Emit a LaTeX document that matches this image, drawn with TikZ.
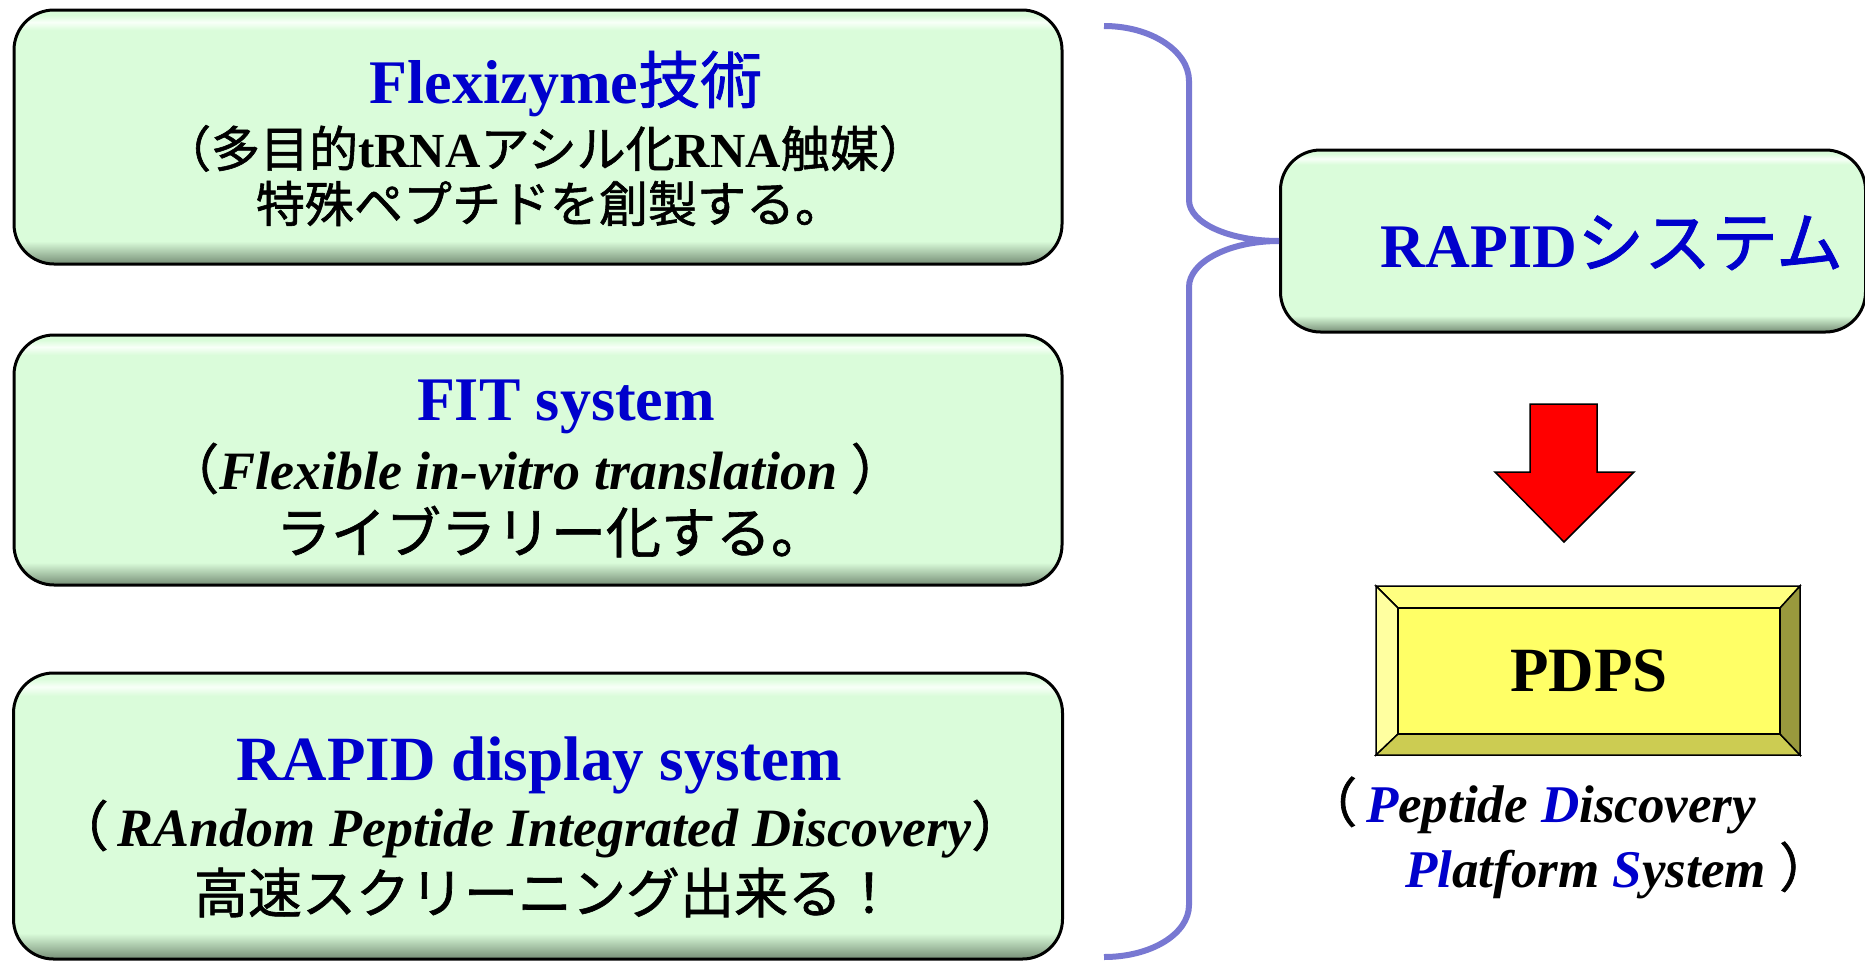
\documentclass[tikz,border=0pt]{standalone}
\usepackage{fontspec}
\setmainfont{Liberation Serif}
\newfontfamily\jpfont[FakeBold=1.2]{Noto Sans CJK JP}
\usetikzlibrary{calc}

\definecolor{titleblue}{RGB}{0,0,204}
\definecolor{panelface}{RGB}{218,252,218}
\definecolor{paneldark}{RGB}{118,142,118}
\definecolor{panelhi}{RGB}{248,255,248}
\definecolor{bracecol}{RGB}{120,120,210}
\definecolor{pdpsface}{RGB}{255,255,102}
\definecolor{pdpstop}{RGB}{255,255,128}
\definecolor{pdpsleft}{RGB}{255,255,160}
\definecolor{pdpsbot}{RGB}{204,204,82}
\definecolor{pdpsright}{RGB}{153,153,61}

\pgfdeclareverticalshading{panelshade}{100bp}{color(0bp)=(paneldark); color(25bp)=(paneldark);
  color(26.8bp)=(paneldark!60!panelface); color(29.5bp)=(panelface); color(71bp)=(panelface);
  color(72.6bp)=(panelhi); color(74bp)=(panelface); color(100bp)=(panelface)}

\newcommand\setsz[1]{\fontsize{#1}{#1}\selectfont}
\newcommand\jtext[1]{{\jpfont\mdseries\upshape #1}}
\newcommand\blu[1]{\textcolor{titleblue}{#1}}

\begin{document}
\begin{tikzpicture}[x=1pt,y=1pt,
    every node/.append style={inner sep=0pt},
    panel/.style={draw=black, line width=3pt, rounded corners=40pt, shading=panelshade},
    ttl/.style={anchor=base, text=titleblue, font=\bfseries\setsz{62}},
    sub/.style={anchor=base, font=\bfseries\setsz{49}},
    subit/.style={anchor=base, font=\bfseries\itshape\setsz{54}},
    brace/.style={draw=bracecol, line width=6pt}]
  \useasboundingbox (0,0) rectangle (1865,-961);

  % left column
  \node[panel, minimum width=1048pt, minimum height=254pt] (flexi) at (538,-137) {};
  \node[ttl] (flexiT) at (566,-103) {Flexizyme\jtext{技術}};
  \node[sub] (flexiS) at (545,-167) {\jtext{（多目的}tRNA\jtext{アシル化}RNA\jtext{触媒）}};
  \node[anchor=base, font=\setsz{49}] (flexiJ) at (550,-222) {\jtext{特殊ペプチドを創製する。}};

  \node[panel, minimum width=1048pt, minimum height=250pt] (fit) at (538,-460) {};
  \node[ttl] (fitT) at (566,-420) {FIT system};
  \node[subit] (fitS) at (535,-489) {\jtext{（}Flexible in-vitro translation \jtext{）}};
  \node[anchor=base, font=\setsz{55}] (fitJ) at (551,-553) {\jtext{ライブラリー化する。}};

  \node[panel, minimum width=1049pt, minimum height=286pt] (rapd) at (538,-816) {};
  \node[ttl, font=\bfseries\setsz{63}] (rapdT) at (539,-780) {RAPID display system};
  \node[subit] (rapdS) at (540,-846) {\jtext{（}\,RAndom Peptide Integrated Discovery\jtext{）}};
  \node[anchor=base, font=\setsz{54}] (rapdJ) at (545,-913) {\jtext{高速スクリーニング出来る！}};

  % right column
  \node[panel, minimum width=585pt, minimum height=182pt] (rapid) at (1573,-241) {};
  \node[ttl] (rapidT) at (1612,-267) {RAPID{\jpfont\mdseries\setsz{67}システム}};

  \coordinate (braceTop) at (1104,-26);
  \coordinate (braceBot) at (1104,-957);
  \draw[brace] (braceTop) .. controls (1151,-26) and (1189,-51) .. (1189,-81)
    -- (1189,-200) .. controls (1189,-223) and (1229,-241) .. (rapid.west)
    .. controls (1229,-241) and (1189,-262) .. (1189,-287)
    -- (1189,-905) .. controls (1189,-934) and (1151,-957) .. (braceBot);

  % block arrow
  \filldraw[fill=red, draw=black, line width=1.5pt] (1530,-404) -- (1597,-404) -- (1597,-472)
    -- (1634,-472) -- (1564,-542) -- (1495,-472) -- (1530,-472) -- cycle;

  % bevelled PDPS box
  \filldraw[fill=pdpstop, draw=black, line width=1.5pt] (1376,-586) -- (1800,-586) -- (1780,-608) -- (1398,-608) -- cycle;
  \filldraw[fill=pdpsleft, draw=black, line width=1.5pt] (1376,-586) -- (1398,-608) -- (1398,-734) -- (1376,-755) -- cycle;
  \filldraw[fill=pdpsbot, draw=black, line width=1.5pt] (1376,-755) -- (1398,-734) -- (1780,-734) -- (1800,-755) -- cycle;
  \filldraw[fill=pdpsright, draw=black, line width=1.5pt] (1800,-586) -- (1780,-608) -- (1780,-734) -- (1800,-755) -- cycle;
  \node[draw=black, line width=1.5pt, fill=pdpsface, minimum width=382pt, minimum height=126pt,
    font=\bfseries\setsz{63}] (pdps) at (1589,-671) {PDPS};

  \node[anchor=base west, font=\bfseries\itshape\setsz{53}] (pdpsA) at (1304,-822)
    {\jtext{（}\,\blu{P}eptide \blu{D}iscovery};
  \node[anchor=base west, font=\bfseries\itshape\setsz{53}] (pdpsB) at (1405,-887)
    {\blu{Pl}atform \blu{S}ystem \jtext{）}};
\end{tikzpicture}
\end{document}
